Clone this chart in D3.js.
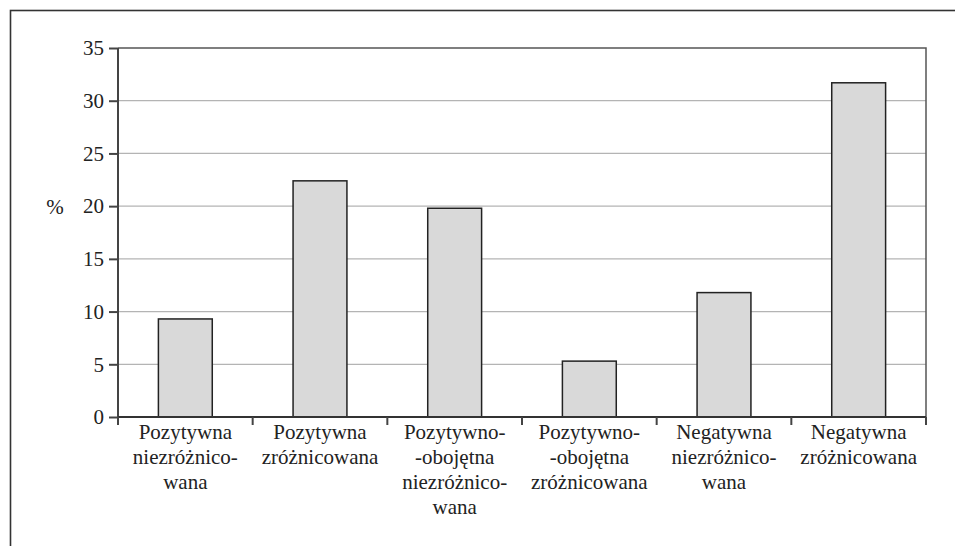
<!DOCTYPE html>
<html><head><meta charset="utf-8">
<script src="https://cdn.jsdelivr.net/npm/d3@7"></script>
<style>body{margin:0;background:#fff}svg{display:block}svg text{font-family:'Liberation Serif',Tinos,'Times New Roman',Times,'DejaVu Serif','Noto Serif',serif !important;fill:#222}</style>
</head><body><svg id="c" width="955" height="546"></svg>
<script>
const categories = [
  ["Pozytywna","niezróżnico-","wana"],
  ["Pozytywna","zróżnicowana"],
  ["Pozytywno-","-obojętna","niezróżnico-","wana"],
  ["Pozytywno-","-obojętna","zróżnicowana"],
  ["Negatywna","niezróżnico-","wana"],
  ["Negatywna","zróżnicowana"]
];
const values = [9.3, 22.4, 19.8, 5.3, 11.8, 31.7];
const yTicks = [0, 5, 10, 15, 20, 25, 30, 35];
const yLabel = "%";

const svg = d3.select("#c");
const L = 118, R = 926, T = 48, B = 417;
const keys = categories.map((d, i) => i);
const x = d3.scaleBand().domain(keys).range([L, R]).paddingInner(0.6).paddingOuter(0.3);
const y = d3.scaleLinear().domain([0, 35]).range([B, T]);

// outer frame
svg.append("rect").attr("x", 10.5).attr("y", 10.5).attr("width", 1000).attr("height", 1000)
  .attr("fill", "none").attr("stroke", "#333").attr("stroke-width", 1.6);

// gridlines
svg.append("g").selectAll("line").data(yTicks.filter(t => t > 0 && t < 35)).join("line")
  .attr("x1", L).attr("x2", R).attr("y1", d => y(d)).attr("y2", d => y(d))
  .attr("stroke", "#b4b4b4").attr("stroke-width", 1.3);

// plot border top & right
svg.append("path").attr("d", `M${L},${T}H${R}V${B}`).attr("fill", "none")
  .attr("stroke", "#555").attr("stroke-width", 1.5);

// bars
svg.append("g").selectAll("rect").data(values).join("rect")
  .attr("x", (d, i) => x(i)).attr("width", x.bandwidth())
  .attr("y", d => y(d)).attr("height", d => B - y(d))
  .attr("fill", "#d9d9d9").attr("stroke", "#222").attr("stroke-width", 1.5);

// y axis
const ya = svg.append("g").attr("transform", `translate(${L},0)`)
  .call(d3.axisLeft(y).tickValues(yTicks).tickSize(9).tickPadding(5).tickFormat(d3.format("d")));
ya.attr("font-family", null).attr("font-size", null);
ya.select(".domain").attr("stroke", "#444").attr("stroke-width", 2).attr("d", `M0,${T}V${B + 8}`);
ya.selectAll(".tick line").attr("stroke", "#444").attr("stroke-width", 2);
ya.selectAll(".tick text").attr("font-size", 21).attr("fill", "#222");

// x axis
const bounds = d3.range(categories.length + 1).map(i => L + i * (R - L) / categories.length);
svg.append("line").attr("x1", L).attr("x2", R).attr("y1", B).attr("y2", B)
  .attr("stroke", "#333").attr("stroke-width", 2);
svg.append("g").selectAll("line").data(bounds).join("line")
  .attr("x1", d => d).attr("x2", d => d).attr("y1", B).attr("y2", B + 8)
  .attr("stroke", "#444").attr("stroke-width", 2);

// category labels
const lab = svg.append("g").selectAll("text").data(categories).join("text")
  .attr("font-size", 21).attr("text-anchor", "middle");
lab.each(function(lines, i) {
  const cx = (bounds[i] + bounds[i + 1]) / 2;
  d3.select(this).selectAll("tspan").data(lines).join("tspan")
    .attr("x", cx).attr("y", (d, j) => 439 + j * 25).text(d => d);
});

// y label
svg.append("text").attr("x", 55).attr("y", 214).attr("font-size", 21)
  .attr("text-anchor", "middle").text(yLabel);
</script></body></html>
